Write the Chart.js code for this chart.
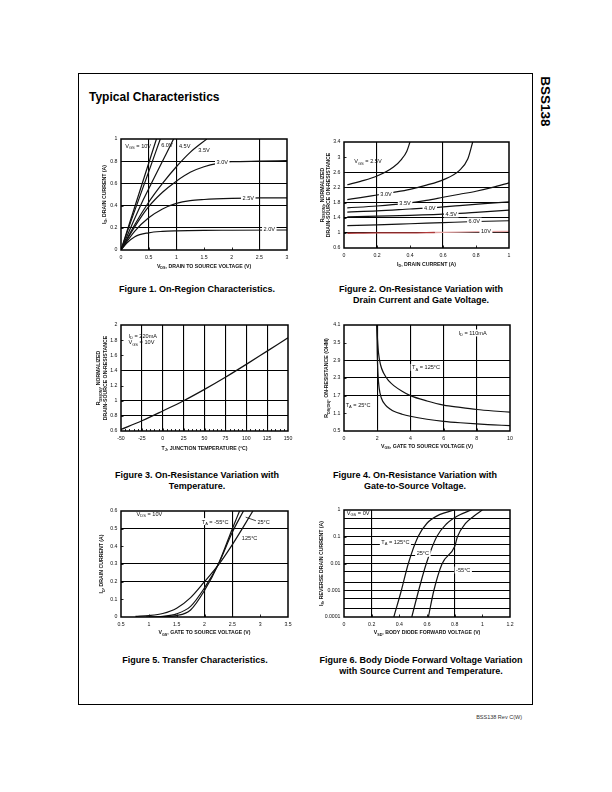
<!DOCTYPE html>
<html>
<head>
<meta charset="utf-8">
<title>BSS138 Typical Characteristics</title>
<script src="https://cdn.jsdelivr.net/npm/chart.js@4.4.1/dist/chart.umd.min.js"></script>
<style>
  html,body{margin:0;padding:0;background:#fff;}
  body{position:relative;width:612px;height:792px;overflow:hidden;font-family:"Liberation Sans",Arial,Helvetica,sans-serif;color:#000;}
  .page-frame{position:absolute;left:78px;top:73px;width:453px;height:630px;border:1px solid #000;}
  .heading{position:absolute;left:89px;top:90px;font-size:12px;font-weight:bold;line-height:14px;white-space:nowrap;}
  .part{position:absolute;left:519px;top:94px;width:52px;height:15px;line-height:15px;font-size:13.5px;font-weight:bold;text-align:center;transform:rotate(90deg);white-space:nowrap;}
  .caption{position:absolute;width:300px;font-size:9px;font-weight:bold;line-height:11.5px;text-align:center;white-space:nowrap;}
  .footer{position:absolute;left:400px;width:122px;top:713px;font-size:5.5px;line-height:8px;text-align:right;color:#333;white-space:nowrap;}
  canvas{position:absolute;}
</style>
</head>
<body>
<div class="page-frame"></div>
<div class="heading">Typical Characteristics</div>
<div class="part">BSS138</div>

<canvas id="fig1"></canvas>
<canvas id="fig2"></canvas>
<canvas id="fig3"></canvas>
<canvas id="fig4"></canvas>
<canvas id="fig5"></canvas>
<canvas id="fig6"></canvas>

<div class="caption" style="left:47px;top:283.5px;">Figure 1. On-Region Characteristics.</div>
<div class="caption" style="left:271px;top:283.5px;">Figure 2. On-Resistance Variation with<br>Drain Current and Gate Voltage.</div>
<div class="caption" style="left:47px;top:469.5px;">Figure 3. On-Resistance Variation with<br>Temperature.</div>
<div class="caption" style="left:265px;top:469.5px;">Figure 4. On-Resistance Variation with<br>Gate-to-Source Voltage.</div>
<div class="caption" style="left:45px;top:654.5px;">Figure 5. Transfer Characteristics.</div>
<div class="caption" style="left:271px;top:654.5px;">Figure 6. Body Diode Forward Voltage Variation<br>with Source Current and Temperature.</div>
<div class="footer">BSS138 Rev C(W)</div>

<script>
// ================= DATA =================
// ---- Figure 1: I_D vs V_DS ----
const fig1XTicks = [0, 0.5, 1, 1.5, 2, 2.5, 3];
const fig1XLabels = ['0', '0.5', '1', '1.5', '2', '2.5', '3'];
const fig1YTicks = [0, 0.2, 0.4, 0.6, 0.8, 1];
const fig1YLabels = ['0', '0.2', '0.4', '0.6', '0.8', '1'];
const fig1XGrid = [0.5, 1, 2.5];
const fig1YGrid = [0.2, 0.4, 0.6, 0.8];
const fig1Vgs10 = [[0,0],[0.16,0.25],[0.32,0.5],[0.48,0.75],[0.64,1.0]];
const fig1Vgs6 = [[0,0],[0.18,0.26],[0.36,0.51],[0.54,0.76],[0.71,1.0]];
const fig1Vgs45 = [[0,0],[0.2,0.23],[0.4,0.45],[0.6,0.65],[0.8,0.85],[0.95,1.0]];
const fig1Vgs35 = [[0,0],[0.25,0.23],[0.5,0.43],[0.75,0.6],[1.0,0.75],[1.25,0.88],[1.55,1.0]];
const fig1Vgs30 = [[0,0],[0.25,0.21],[0.5,0.39],[0.75,0.52],[1.0,0.62],[1.25,0.7],[1.5,0.75],[1.75,0.78],[2.0,0.795],[2.5,0.8],[3.0,0.805]];
const fig1Vgs25 = [[0,0],[0.25,0.17],[0.5,0.29],[0.75,0.37],[1.0,0.42],[1.25,0.445],[1.5,0.455],[2.0,0.465],[2.5,0.47],[3.0,0.47]];
const fig1Vgs20 = [[0,0],[0.1,0.06],[0.25,0.12],[0.5,0.155],[0.75,0.168],[1.0,0.173],[1.5,0.177],[2.0,0.178],[3.0,0.18]];

// ---- Figure 2: normalized R_DS(ON) vs I_D ----
const fig2XTicks = [0, 0.2, 0.4, 0.6, 0.8, 1];
const fig2XLabels = ['0', '0.2', '0.4', '0.6', '0.8', '1'];
const fig2YTicks = [0.6, 1, 1.4, 1.8, 2.2, 2.6, 3, 3.4];
const fig2YLabels = ['0.6', '1', '1.4', '1.8', '2.2', '2.6', '3', '3.4'];
const fig2XGrid = [0.2, 0.6];
const fig2YGrid = [1, 1.4, 1.8, 2.2, 2.6];
const fig2Vgs25 = [[0.02,2.27],[0.1,2.36],[0.2,2.5],[0.3,2.74],[0.35,2.95],[0.38,3.15],[0.4,3.4]];
const fig2Vgs30 = [[0.02,1.88],[0.1,1.93],[0.2,2.0],[0.3,2.07],[0.4,2.15],[0.5,2.26],[0.6,2.4],[0.7,2.65],[0.75,2.95],[0.78,3.4]];
const fig2Vgs35 = [[0.02,1.66],[0.2,1.71],[0.37,1.78],[0.5,1.86],[0.6,1.94],[0.7,2.02],[0.8,2.1],[0.9,2.2],[1.0,2.32]];
const fig2Vgs40 = [[0.02,1.55],[0.2,1.58],[0.4,1.63],[0.52,1.66],[0.7,1.72],[0.85,1.77],[1.0,1.82]];
const fig2Vgs45 = [[0.02,1.42],[0.2,1.44],[0.4,1.46],[0.65,1.5],[0.8,1.54],[1.0,1.6]];
const fig2Vgs60 = [[0.02,1.19],[0.2,1.21],[0.4,1.24],[0.6,1.27],[0.8,1.3],[1.0,1.32]];
const fig2Vgs10 = [[0.02,0.99],[0.2,1.0],[0.4,1.0],[0.55,1.01],[0.7,1.02],[0.86,1.03],[1.0,1.04]];

// ---- Figure 3: normalized R_DS(ON) vs T_J ----
const fig3XTicks = [-50, -25, 0, 25, 50, 75, 100, 125, 150];
const fig3XLabels = ['-50', '-25', '0', '25', '50', '75', '100', '125', '150'];
const fig3YTicks = [0.6, 0.8, 1, 1.2, 1.4, 1.6, 1.8, 2];
const fig3YLabels = ['0.6', '0.8', '1', '1.2', '1.4', '1.6', '1.8', '2'];
const fig3XGrid = [-25, 0, 25, 50, 75, 100, 125];
const fig3YGrid = [0.8, 1, 1.4];
const fig3Temp = [-50, -25, 0, 25, 50, 75, 100, 125, 150];
const fig3Rds = [0.62, 0.735, 0.865, 1.0, 1.15, 1.31, 1.48, 1.655, 1.83];

// ---- Figure 4: R_DS(ON) vs V_GS ----
const fig4XTicks = [0, 2, 4, 6, 8, 10];
const fig4XLabels = ['0', '2', '4', '6', '8', '10'];
const fig4YTicks = [0.5, 1.1, 1.7, 2.3, 2.9, 3.5, 4.1];
const fig4YLabels = ['0.5', '1.1', '1.7', '2.3', '2.9', '3.5', '4.1'];
const fig4XGrid = [2, 4, 6, 8];
const fig4YGrid = [1.7, 2.3, 2.9];
const fig4T125 = [[1.97,4.1],[2.02,3.6],[2.08,3.15],[2.2,2.75],[2.4,2.45],[2.7,2.2],[3.0,2.04],[3.5,1.85],[4.0,1.7],[5.0,1.52],[6.0,1.38],[7.0,1.3],[8.0,1.23],[9.0,1.18],[10.0,1.14]];
const fig4T25 = [[1.98,4.1],[2.0,3.2],[2.05,2.4],[2.12,1.95],[2.25,1.62],[2.5,1.38],[2.8,1.24],[3.0,1.17],[3.5,1.07],[4.0,1.0],[5.0,0.9],[6.0,0.83],[7.0,0.78],[8.0,0.74],[9.0,0.71],[10.0,0.68]];

// ---- Figure 5: I_D vs V_GS (transfer) ----
const fig5XTicks = [0.5, 1, 1.5, 2, 2.5, 3, 3.5];
const fig5XLabels = ['0.5', '1', '1.5', '2', '2.5', '3', '3.5'];
const fig5YTicks = [0, 0.1, 0.2, 0.3, 0.4, 0.5, 0.6];
const fig5YLabels = ['0', '0.1', '0.2', '0.3', '0.4', '0.5', '0.6'];
const fig5XGrid = [2, 2.5];
const fig5YGrid = [0.2, 0.3, 0.5];
const fig5Tm55 = [[1.15,0.0],[1.25,0.002],[1.5,0.008],[1.75,0.04],[2.0,0.15],[2.25,0.3],[2.5,0.5],[2.63,0.6]];
const fig5T25 = [[0.95,0.0],[1.25,0.004],[1.5,0.018],[1.75,0.06],[2.0,0.165],[2.25,0.3],[2.5,0.48],[2.7,0.6]];
const fig5T125 = [[0.76,0.003],[1.0,0.008],[1.25,0.02],[1.5,0.05],[1.75,0.11],[2.0,0.2],[2.25,0.295],[2.5,0.41],[2.87,0.6]];

// ---- Figure 6: I_S vs V_SD (body diode) ----
const fig6XTicks = [0, 0.2, 0.4, 0.6, 0.8, 1, 1.2];
const fig6XLabels = ['0', '0.2', '0.4', '0.6', '0.8', '1', '1.2'];
const fig6YTicks = [0.0001, 0.001, 0.01, 0.1, 1];
const fig6YLabels = ['0.0001', '0.001', '0.01', '0.1', '1'];
const fig6XGrid = [0.2, 0.8];
const fig6YGrid = [0.0002, 0.0005, 0.001, 0.002, 0.005, 0.01, 0.02, 0.05, 0.1, 0.2, 0.5];
const fig6T125 = [[0.36,0.0001],[0.415,0.001],[0.465,0.01],[0.535,0.1],[0.6,0.32],[0.69,0.67],[0.8,1.0]];
const fig6T25 = [[0.49,0.0001],[0.54,0.001],[0.595,0.01],[0.67,0.1],[0.74,0.3],[0.82,0.6],[0.92,1.0]];
const fig6Tm55 = [[0.61,0.0001],[0.65,0.001],[0.71,0.01],[0.8,0.043],[0.82,0.1],[0.88,0.32],[0.94,0.6],[1.0,1.0]];

// ================= RENDERING HELPERS =================
const FAM = '"Liberation Sans", Arial, Helvetica, sans-serif';
const TICK_SIZE = 5.2;
const TITLE_SIZE = 5.2;
const LABEL_SIZE = 5.6;
const PADL = 52, PADT = 10, PADR = 12, PADB = 30;

function pts(a) { return a.map(p => ({ x: p[0], y: p[1] })); }
function near(v, g) { return Math.abs(v - g) <= Math.abs(g) * 1e-6 + 1e-12; }
function inList(v, list) { return list.some(g => near(v, g)); }
function labelFor(v, ticks, labels) {
  const i = ticks.findIndex(t => near(v, t));
  return i >= 0 ? labels[i] : '';
}
function parseRich(s) {
  const out = []; const re = /_\{([^}]*)\}/g; let last = 0, m;
  while ((m = re.exec(s))) {
    if (m.index > last) out.push([s.slice(last, m.index), false]);
    out.push([m[1], true]); last = re.lastIndex;
  }
  if (last < s.length) out.push([s.slice(last), false]);
  return out;
}
function setFont(ctx, size, weight) { ctx.font = `${weight} ${size}px ${FAM}`; }
function drawRich(ctx, str, x, y, size, weight, align, bg) {
  const segs = parseRich(str);
  let w = 0;
  for (const [t, sub] of segs) { setFont(ctx, sub ? size * 0.72 : size, weight); w += ctx.measureText(t).width; }
  let cx = align === 'left' ? x : align === 'right' ? x - w : x - w / 2;
  if (bg) { ctx.fillStyle = '#fff'; ctx.fillRect(cx - 1.5, y - size * 0.62, w + 3, size * 1.24); }
  ctx.fillStyle = '#111'; ctx.textAlign = 'left'; ctx.textBaseline = 'alphabetic';
  const base = y + size * 0.36;
  for (const [t, sub] of segs) {
    setFont(ctx, sub ? size * 0.72 : size, weight);
    ctx.fillText(t, cx, sub ? base + size * 0.22 : base);
    cx += ctx.measureText(t).width;
  }
}

function deco(cfg) {
  return {
    id: 'deco',
    afterDatasetsDraw(chart) {
      const { ctx, chartArea: a } = chart;
      const xs = chart.scales.x, ys = chart.scales.y;
      ctx.save();
      // small inner tick marks at major ticks
      ctx.strokeStyle = '#111'; ctx.lineWidth = 0.9;
      ctx.beginPath();
      cfg.xTicks.slice(1, -1).forEach(v => { const p = Math.round(xs.getPixelForValue(v)) + 0.5; ctx.moveTo(p, a.bottom); ctx.lineTo(p, a.bottom - 2.5); });
      cfg.yTicks.slice(1, -1).forEach(v => { const p = Math.round(ys.getPixelForValue(v)) + 0.5; ctx.moveTo(a.left, p); ctx.lineTo(a.left + 2.5, p); });
      (cfg.xMinor || []).forEach(v => { const p = Math.round(xs.getPixelForValue(v)) + 0.5; ctx.moveTo(p, a.bottom); ctx.lineTo(p, a.bottom - 2); });
      ctx.stroke();
      // leader lines
      (cfg.leaders || []).forEach(l => {
        ctx.beginPath(); ctx.lineWidth = 0.8;
        ctx.moveTo(xs.getPixelForValue(l[0]), ys.getPixelForValue(l[1]));
        ctx.lineTo(xs.getPixelForValue(l[2]), ys.getPixelForValue(l[3]));
        ctx.stroke();
      });
      // in-plot labels
      (cfg.labels || []).forEach(l => {
        drawRich(ctx, l.t, xs.getPixelForValue(l.x), ys.getPixelForValue(l.y), LABEL_SIZE, 'normal', l.align || 'center', l.bg !== false);
      });
      // plot frame
      ctx.strokeStyle = '#000'; ctx.lineWidth = 1.5;
      ctx.strokeRect(a.left, a.top, a.right - a.left, a.bottom - a.top);
      // axis titles
      drawRich(ctx, cfg.xTitle, (a.left + a.right) / 2, a.bottom + cfg.xTitleOff, TITLE_SIZE, 'bold', 'center', false);
      cfg.yTitle.forEach(([txt, off]) => {
        ctx.save();
        ctx.translate(a.left - off, (a.top + a.bottom) / 2);
        ctx.rotate(-Math.PI / 2);
        drawRich(ctx, txt, 0, 0, TITLE_SIZE, 'bold', 'center', false);
        ctx.restore();
      });
      ctx.restore();
    }
  };
}

function axis(type, ticks, labels, grid, isX) {
  const all = [...ticks, ...grid.filter(g => !inList(g, ticks))].sort((p, q) => p - q);
  return {
    type: type,
    min: ticks[0],
    max: ticks[ticks.length - 1],
    afterBuildTicks: s => { s.ticks = all.map(v => ({ value: v })); },
    afterFit: s => { if (isX) s.height = PADB; else s.width = PADL; },
    grid: {
      drawTicks: false,
      lineWidth: 1.1,
      color: c => (c.tick && inList(c.tick.value, grid)) ? '#000' : 'rgba(0,0,0,0)'
    },
    border: { display: false },
    ticks: {
      autoSkip: false, maxRotation: 0, minRotation: 0,
      padding: isX ? 4 : 3.5,
      color: '#111',
      font: { family: FAM, size: TICK_SIZE },
      callback: v => labelFor(v, ticks, labels)
    }
  };
}

function makeChart(id, box, cfg) {
  const cv = document.getElementById(id);
  const w = box.R - box.L + PADL + PADR, h = box.B - box.T + PADT + PADB;
  cv.width = w; cv.height = h;
  cv.style.left = (box.L - PADL) + 'px'; cv.style.top = (box.T - PADT) + 'px';
  cv.style.width = w + 'px'; cv.style.height = h + 'px';
  return new Chart(cv, {
    type: 'line',
    data: {
      datasets: cfg.series.map(s => ({
        label: s.name,
        data: pts(s.data),
        borderColor: s.color || '#111',
        borderWidth: s.width || 1.2,
        pointRadius: 0, pointHoverRadius: 0, fill: false,
        cubicInterpolationMode: 'monotone',
        segment: s.segment
      }))
    },
    options: {
      responsive: false, animation: false, events: [],
      layout: { padding: { left: 0, top: PADT, right: PADR, bottom: 0 }, autoPadding: false },
      plugins: { legend: { display: false }, tooltip: { enabled: false } },
      scales: {
        x: axis('linear', cfg.xTicks, cfg.xLabels, cfg.xGrid, true),
        y: axis(cfg.yType || 'linear', cfg.yTicks, cfg.yLabels, cfg.yGrid, false)
      }
    },
    plugins: [deco(cfg)]
  });
}

// ================= CHARTS =================
makeChart('fig1', { L: 121, T: 139, R: 287, B: 250 }, {
  xTicks: fig1XTicks, xLabels: fig1XLabels, yTicks: fig1YTicks, yLabels: fig1YLabels,
  xGrid: fig1XGrid, yGrid: fig1YGrid,
  series: [
    { name: 'VGS = 10V', data: fig1Vgs10 }, { name: '6.0V', data: fig1Vgs6 },
    { name: '4.5V', data: fig1Vgs45 }, { name: '3.5V', data: fig1Vgs35 },
    { name: '3.0V', data: fig1Vgs30 }, { name: '2.5V', data: fig1Vgs25 },
    { name: '2.0V', data: fig1Vgs20 }
  ],
  labels: [
    { t: 'V_{GS} = 10V', x: 0.31, y: 0.94, bg: false },
    { t: '6.0V', x: 0.83, y: 0.95, bg: false },
    { t: '4.5V', x: 1.15, y: 0.94, bg: false },
    { t: '3.5V', x: 1.5, y: 0.9, bg: false },
    { t: '3.0V', x: 1.83, y: 0.797 },
    { t: '2.5V', x: 2.3, y: 0.472 },
    { t: '2.0V', x: 2.68, y: 0.19 }
  ],
  xTitle: 'V_{DS}, DRAIN TO SOURCE VOLTAGE (V)', xTitleOff: 16,
  yTitle: [['I_{D}, DRAIN CURRENT (A)', 17]]
});

makeChart('fig2', { L: 344, T: 142, R: 509, B: 248 }, {
  xTicks: fig2XTicks, xLabels: fig2XLabels, yTicks: fig2YTicks, yLabels: fig2YLabels,
  xGrid: fig2XGrid, yGrid: fig2YGrid,
  series: [
    { name: 'VGS = 2.5V', data: fig2Vgs25 }, { name: '3.0V', data: fig2Vgs30 },
    { name: '3.5V', data: fig2Vgs35 }, { name: '4.0V', data: fig2Vgs40 },
    { name: '4.5V', data: fig2Vgs45 }, { name: '6.0V', data: fig2Vgs60 },
    { name: '10V', data: fig2Vgs10, width: 1.3,
      segment: { borderColor: c => c.p0.parsed.x >= 0.55 ? '#e4a4a4' : '#b23a3a' } }
  ],
  labels: [
    { t: 'V_{GS} = 2.5V', x: 0.145, y: 2.89, bg: false },
    { t: '3.0V', x: 0.255, y: 2.04 },
    { t: '3.5V', x: 0.37, y: 1.78 },
    { t: '4.0V', x: 0.52, y: 1.66 },
    { t: '4.5V', x: 0.65, y: 1.5 },
    { t: '6.0V', x: 0.79, y: 1.31 },
    { t: '10V', x: 0.86, y: 1.04 }
  ],
  xTitle: 'I_{D}, DRAIN CURRENT (A)', xTitleOff: 16,
  yTitle: [['R_{DS(ON)}, NORMALIZED', 22], ['DRAIN-SOURCE ON-RESISTANCE', 15.5]]
});

makeChart('fig3', { L: 121, T: 325, R: 288, B: 431 }, {
  xTicks: fig3XTicks, xLabels: fig3XLabels, yTicks: fig3YTicks, yLabels: fig3YLabels,
  xGrid: fig3XGrid, yGrid: fig3YGrid,
  xMinor: Array.from({ length: 39 }, (_, i) => -45 + i * 5).filter(v => v % 25 !== 0),
  series: [{ name: 'RDS(ON)', data: fig3Temp.map((t, i) => [t, fig3Rds[i]]) }],
  labels: [
    { t: 'I_{D} = 220mA', x: -41, y: 1.86, align: 'left', bg: false },
    { t: 'V_{GS} = 10V', x: -41, y: 1.77, align: 'left', bg: false }
  ],
  xTitle: 'T_{J}, JUNCTION TEMPERATURE (°C)', xTitleOff: 17,
  yTitle: [['R_{DS(ON)}, NORMALIZED', 22.5], ['DRAIN-SOURCE ON-RESISTANCE', 16]]
});

makeChart('fig4', { L: 344, T: 325, R: 510, B: 431 }, {
  xTicks: fig4XTicks, xLabels: fig4XLabels, yTicks: fig4YTicks, yLabels: fig4YLabels,
  xGrid: fig4XGrid, yGrid: fig4YGrid,
  series: [{ name: 'TA = 125°C', data: fig4T125 }, { name: 'TA = 25°C', data: fig4T25 }],
  labels: [
    { t: 'I_{D} = 110mA', x: 6.9, y: 3.83, align: 'left' },
    { t: 'T_{A} = 125°C', x: 4.1, y: 2.66, align: 'left' },
    { t: 'T_{A} = 25°C', x: 0.1, y: 1.39, align: 'left' }
  ],
  xTitle: 'V_{GS}, GATE TO SOURCE VOLTAGE (V)', xTitleOff: 15,
  yTitle: [['R_{DS(ON)}, ON-RESISTANCE (OHM)', 17.5]]
});

makeChart('fig5', { L: 121, T: 511, R: 288, B: 617 }, {
  xTicks: fig5XTicks, xLabels: fig5XLabels, yTicks: fig5YTicks, yLabels: fig5YLabels,
  xGrid: fig5XGrid, yGrid: fig5YGrid,
  series: [
    { name: 'TA = -55°C', data: fig5Tm55 },
    { name: '25°C', data: fig5T25 },
    { name: '125°C', data: fig5T125 }
  ],
  labels: [
    { t: 'V_{DS} = 10V', x: 0.78, y: 0.585, align: 'left' },
    { t: 'T_{A} = -55°C', x: 1.95, y: 0.54, align: 'left' },
    { t: '25°C', x: 2.95, y: 0.54, align: 'left' },
    { t: '125°C', x: 2.67, y: 0.45, align: 'left' }
  ],
  leaders: [[2.74, 0.565, 2.94, 0.543]],
  xTitle: 'V_{GS}, GATE TO SOURCE VOLTAGE (V)', xTitleOff: 15.5,
  yTitle: [['I_{D}, DRAIN CURRENT (A)', 19.5]]
});

makeChart('fig6', { L: 344, T: 510, R: 510, B: 617 }, {
  yType: 'logarithmic',
  xTicks: fig6XTicks, xLabels: fig6XLabels, yTicks: fig6YTicks, yLabels: fig6YLabels,
  xGrid: fig6XGrid, yGrid: fig6YGrid,
  series: [
    { name: 'TA = 125°C', data: fig6T125 },
    { name: '25°C', data: fig6T25 },
    { name: '-55°C', data: fig6Tm55 }
  ],
  labels: [
    { t: 'V_{GS} = 0V', x: 0.02, y: 0.77, align: 'left' },
    { t: 'T_{A} = 125°C', x: 0.27, y: 0.066, align: 'left' },
    { t: '25°C', x: 0.525, y: 0.024, align: 'left' },
    { t: '-55°C', x: 0.81, y: 0.0057, align: 'left' }
  ],
  xTitle: 'V_{SD}, BODY DIODE FORWARD VOLTAGE (V)', xTitleOff: 15.5,
  yTitle: [['I_{S}, REVERSE DRAIN CURRENT (A)', 23]]
});
</script>
</body>
</html>
